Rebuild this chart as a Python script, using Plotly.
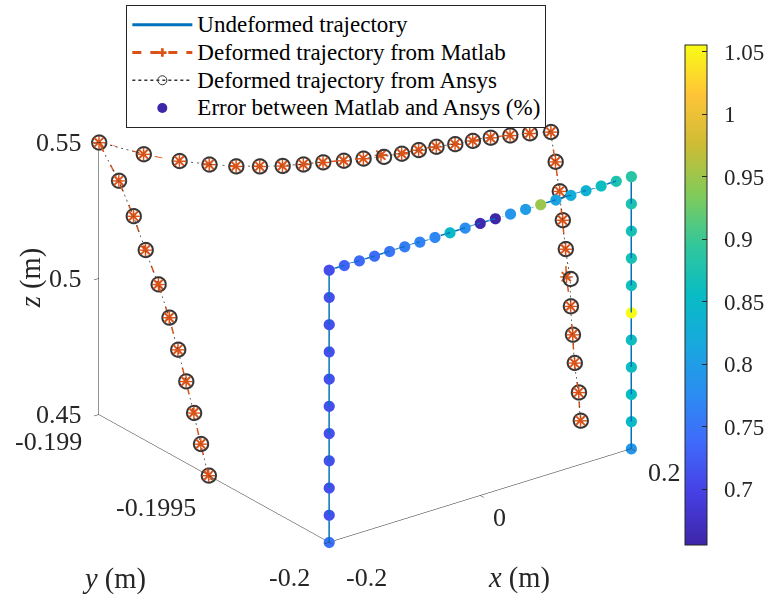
import plotly.graph_objects as go

# ---------------- data ----------------
# path: up the left leg (x=-0.2), across the top (z=0.55), down the right leg (x=0.2)
path_x = [-0.2, -0.2, -0.2, -0.2, -0.2, -0.2, -0.2, -0.2, -0.2, -0.2, -0.2,
          -0.18, -0.16, -0.14, -0.12, -0.10, -0.08, -0.06, -0.04, -0.02, 0.0,
          0.02, 0.04, 0.06, 0.08, 0.10, 0.12, 0.14, 0.16, 0.18, 0.2,
          0.2, 0.2, 0.2, 0.2, 0.2, 0.2, 0.2, 0.2, 0.2, 0.2]
path_z = [0.45, 0.46, 0.47, 0.48, 0.49, 0.50, 0.51, 0.52, 0.53, 0.54, 0.55,
          0.55, 0.55, 0.55, 0.55, 0.55, 0.55, 0.55, 0.55, 0.55, 0.55,
          0.55, 0.55, 0.55, 0.55, 0.55, 0.55, 0.55, 0.55, 0.55, 0.55,
          0.54, 0.53, 0.52, 0.51, 0.50, 0.49, 0.48, 0.47, 0.46, 0.45]
undeformed_y = [-0.2] * 41

# deformed y positions (m)
ansys_y = [-0.199476, -0.199442, -0.199412, -0.199378, -0.199343, -0.199305, -0.199258, -0.199202, -0.199150, -0.199086, -0.199000,
           -0.199128, -0.199218, -0.199282, -0.199333, -0.199370, -0.199403, -0.199428, -0.199448, -0.199472, -0.199492,
           -0.199515, -0.199527, -0.199535, -0.199546, -0.199562, -0.199573, -0.199585, -0.199604, -0.199624, -0.199650,
           -0.199670, -0.199688, -0.199701, -0.199714, -0.199735, -0.199736, -0.199745, -0.199753, -0.199771, -0.199779]
matlab_y = [-0.199476, -0.199442, -0.199412, -0.199378, -0.199343, -0.199305, -0.199258, -0.199202, -0.199150, -0.199086, -0.199000,
            -0.199128, -0.199218, -0.199282, -0.199333, -0.199370, -0.199403, -0.199428, -0.199448, -0.199472, -0.199492,
            -0.199503, -0.199527, -0.199535, -0.199546, -0.199562, -0.199573, -0.199585, -0.199604, -0.199624, -0.199650,
            -0.199670, -0.199688, -0.199701, -0.199714, -0.199718, -0.199736, -0.199745, -0.199753, -0.199771, -0.199779]

# error between Matlab and Ansys (%)
error_pct = [0.745, 0.712, 0.712, 0.712, 0.712, 0.712, 0.712, 0.712, 0.712, 0.712, 0.710,
             0.730, 0.735, 0.740, 0.750, 0.760, 0.765, 0.770, 0.850, 0.780, 0.660,
             0.6554, 0.790, 0.800, 0.950, 0.810, 0.825, 0.835, 0.860, 0.875, 0.885,
             0.875, 0.870, 0.870, 0.865, 1.0554, 0.860, 0.860, 0.855, 0.850, 0.790]

cbar_ticks = [0.7, 0.75, 0.8, 0.85, 0.9, 0.95, 1.0, 1.05]
cbar_labels = ['0.7', '0.75', '0.8', '0.85', '0.9', '0.95', '1', '1.05']
x_ticks = [-0.2, 0.0, 0.2]
x_labels = ['-0.2', '0', '0.2']
y_ticks = [-0.2, -0.1995, -0.199]
y_labels = ['-0.2', '-0.1995', '-0.199']
z_ticks = [0.45, 0.5, 0.55]
z_labels = ['0.45', '0.5', '0.55']

X_RANGE = [-0.2, 0.2]
Y_RANGE = [-0.2, -0.199]
Z_RANGE = [0.45, 0.55]

parula = [[0.00, 'rgb(62,38,168)'], [0.10, 'rgb(70,62,226)'], [0.20, 'rgb(64,104,250)'],
          [0.30, 'rgb(44,140,242)'], [0.40, 'rgb(24,168,222)'], [0.50, 'rgb(8,188,196)'],
          [0.60, 'rgb(50,199,155)'], [0.70, 'rgb(128,203,90)'], [0.80, 'rgb(206,188,52)'],
          [0.90, 'rgb(254,196,56)'], [1.00, 'rgb(249,251,21)']]

FONT = 'Liberation Serif'
TXT = '#262626'
W, H = 771, 596


def px_x(p):
    return p / W


def px_y(p):
    return 1 - p / H


def leg(t):
    return '<span style="font-size:23px">' + t + '</span>'


fig = go.Figure()

fig.add_trace(go.Scatter3d(
    x=path_x, y=undeformed_y, z=path_z, mode='lines',
    line=dict(color='#0072BD', width=3), name=leg('Undeformed trajectory'), legendrank=1))

fig.add_trace(go.Scatter3d(
    x=path_x, y=ansys_y, z=path_z, mode='lines+markers',
    line=dict(color='#333333', width=1.5, dash='dot'),
    marker=dict(symbol='circle-open', size=9, color='#333333', line=dict(width=1)),
    name=leg('Deformed trajectory from Ansys'), legendrank=3))

fig.add_trace(go.Scatter3d(
    x=path_x, y=matlab_y, z=path_z, mode='lines+markers',
    line=dict(color='#D95319', width=3, dash='dash'),
    marker=dict(symbol='cross', size=7, color='#D95319'),
    name=leg('Deformed trajectory from Matlab'), legendrank=2))

fig.add_trace(go.Scatter3d(
    x=path_x, y=matlab_y, z=path_z, mode='markers',
    marker=dict(symbol='x', size=2.3, color='#D95319'),
    showlegend=False, hoverinfo='skip'))

fig.add_trace(go.Scatter3d(
    x=path_x, y=undeformed_y, z=path_z, mode='markers',
    marker=dict(size=6.5, color=error_pct, colorscale=parula, cmin=0.6554, cmax=1.0554,
                colorbar=dict(x=px_x(689), xanchor='left', xpad=0, ypad=0,
                              y=px_y(295), yanchor='middle',
                              len=500/H, lenmode='fraction', thickness=22,
                              outlinecolor=TXT, outlinewidth=1,
                              tickvals=cbar_ticks,
                              ticktext=['\u2002' + t for t in cbar_labels],
                              ticks='inside', ticklen=5, tickcolor=TXT,
                              tickfont=dict(family=FONT, size=23, color=TXT))),
    showlegend=False, name='Error between Matlab and Ansys (%)'))

# legend entry for the error markers
fig.add_trace(go.Scatter3d(
    x=[None], y=[None], z=[None], mode='markers',
    marker=dict(size=10, color='rgb(62,38,168)'),
    name=leg('Error between Matlab and Ansys (%)'), legendrank=4))

axis_common = dict(showgrid=False, showbackground=False, zeroline=False,
                   showline=True, linecolor=TXT, linewidth=1,
                   ticks='outside', ticklen=6, tickcolor=TXT,
                   showspikes=False, showticklabels=False, title=dict(text=''))

# tick labels and axis titles as screen-aligned scene annotations
tick_font = dict(family=FONT, size=26, color=TXT)
ann = []
for v, t in zip(z_ticks, z_labels):
    ann.append(dict(x=X_RANGE[0], y=Y_RANGE[1], z=v, text=t, showarrow=False,
                    xanchor='right', yanchor='middle', xshift=-15, font=tick_font))
y_shifts = [(-17, -35), (-16, -29), (-15, -27)]
for v, t, (dx, dy) in zip(y_ticks, y_labels, y_shifts):
    ann.append(dict(x=X_RANGE[0], y=v, z=Z_RANGE[0], text=t, showarrow=False,
                    xanchor='right', yanchor='middle', xshift=dx, yshift=dy, font=tick_font))
x_shifts = [('left', 15, -35), ('center', 19, -22), ('left', 15, -24)]
for v, t, (xa, dx, dy) in zip(x_ticks, x_labels, x_shifts):
    ann.append(dict(x=v, y=Y_RANGE[0], z=Z_RANGE[0], text=t, showarrow=False,
                    xanchor=xa, yanchor='middle', xshift=dx, yshift=dy, font=tick_font))
title_font = dict(family=FONT, size=28.5, color=TXT)
ann.append(dict(x=X_RANGE[0], y=Y_RANGE[1], z=0.5, text='<i>z</i> (m)', showarrow=False,
                textangle=-90, xanchor='center', yanchor='middle', xshift=-67, font=title_font))
ann.append(dict(x=X_RANGE[0], y=-0.1995, z=Z_RANGE[0], text='<i>y</i> (m)', showarrow=False,
                xanchor='center', yanchor='middle', xshift=-100, yshift=-101, font=title_font))
ann.append(dict(x=0.0, y=Y_RANGE[0], z=Z_RANGE[0], text='<i>x</i> (m)', showarrow=False,
                xanchor='center', yanchor='middle', xshift=39, yshift=-82, font=title_font))

k = 1.312
fig.update_layout(
    width=W, height=H,
    margin=dict(l=0, r=0, t=0, b=0),
    paper_bgcolor='white',
    font=dict(family=FONT, color=TXT),
    showlegend=True,
    legend=dict(x=px_x(127), y=px_y(5), xanchor='left', yanchor='top',
                bgcolor='white', bordercolor=TXT, borderwidth=1,
                font=dict(family=FONT, size=19, color='black'),
                itemwidth=60, tracegroupgap=0),
    scene=dict(
        domain=dict(x=[0.0130, 0.9390], y=[0.0217, 0.9867]),
        xaxis=dict(range=X_RANGE, tickvals=x_ticks, **axis_common),
        yaxis=dict(range=Y_RANGE, tickvals=y_ticks, **axis_common),
        zaxis=dict(range=Z_RANGE, tickvals=z_ticks, **axis_common),
        aspectmode='manual', aspectratio=dict(x=1.0*k, y=1.020*k, z=0.793*k),
        camera=dict(projection=dict(type='orthographic'),
                    eye=dict(x=-0.5448*1.6, y=-0.7290*1.6, z=0.4144*1.6),
                    up=dict(x=0, y=0, z=1), center=dict(x=0, y=0, z=0)),
        annotations=ann,
    ),
)

fig.write_html('out.html', config={'displayModeBar': False},
               post_script="document.body.style.margin='0';document.body.style.overflow='hidden';")
